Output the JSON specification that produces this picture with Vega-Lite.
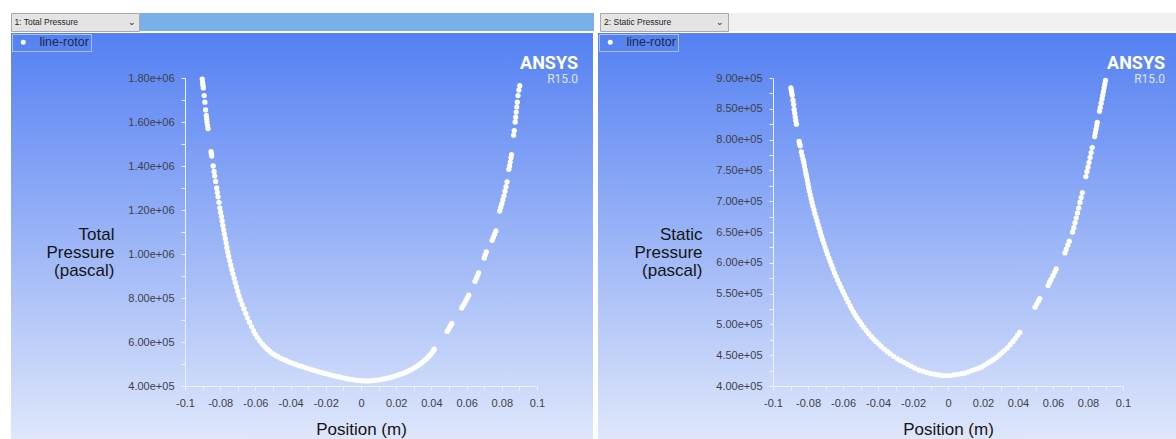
{
  "$schema": "https://vega.github.io/schema/vega-lite/v6.json",
  "background": "#ffffff",
  "padding": {"left": 10, "top": 12, "right": 0, "bottom": 0},
  "config": {
    "view": {"stroke": null},
    "font": "Liberation Sans",
    "axis": {
      "grid": false,
      "domainColor": "#eef2fd",
      "tickColor": "#eef2fd",
      "domainWidth": 1,
      "tickWidth": 1,
      "tickSize": 4,
      "labelFont": "Liberation Sans",
      "labelFontSize": 11,
      "labelColor": "#40404a",
      "labelPadding": 7,
      "labelFlush": false,
      "labelOverlap": false,
      "titleFont": "Liberation Sans",
      "titleFontSize": 17,
      "titleFontWeight": "normal",
      "titleColor": "#151515"
    },
    "legend": {
      "title": null,
      "orient": "top-left",
      "offset": 1,
      "padding": 2,
      "strokeColor": "#a7bff6",
      "symbolType": "circle",
      "symbolSize": 25,
      "symbolStrokeWidth": 0,
      "symbolOffset": 3,
      "labelOffset": 10,
      "labelFont": "Liberation Sans",
      "labelFontSize": 12.5,
      "labelColor": "#1f2a48"
    },
    "title": {"font": "Roboto", "color": "#ffffff"}
  },
  "datasets": {
    "hdr1": [{"label": "1: Total Pressure\u00a0\u00a0\u00a0\u00a0\u00a0\u00a0\u00a0\u00a0\u00a0\u00a0\u00a0\u00a0\u00a0\u00a0\u00a0\u00a0\u00a0\u00a0\u00a0\u00a0\u00a0\u2304"}],
    "hdr2": [{"label": "2: Static Pressure\u00a0\u00a0\u00a0\u00a0\u00a0\u00a0\u00a0\u00a0\u00a0\u00a0\u00a0\u00a0\u00a0\u00a0\u00a0\u00a0\u00a0\u00a0\u00a0\u2304"}],
    "total": [
      {"x":-0.0902,"p":1795000},{"x":-0.0900,"p":1780000},{"x":-0.0898,"p":1767000},{"x":-0.0896,"p":1755000},
      {"x":-0.0891,"p":1720000},{"x":-0.0887,"p":1690000},{"x":-0.0883,"p":1655000},{"x":-0.0879,"p":1630000},
      {"x":-0.0877,"p":1615000},{"x":-0.0875,"p":1600000},{"x":-0.0872,"p":1585000},{"x":-0.0869,"p":1570000},
      {"x":-0.0852,"p":1465000},{"x":-0.0850,"p":1455000},{"x":-0.0848,"p":1445000},{"x":-0.0840,"p":1400000},
      {"x":-0.0835,"p":1375000},{"x":-0.0831,"p":1355000},{"x":-0.0826,"p":1330000},{"x":-0.0820,"p":1300000},
      {"x":-0.0816,"p":1280000},{"x":-0.0812,"p":1260000},{"x":-0.0807,"p":1235000},{"x":-0.0802,"p":1210000},
      {"x":-0.0798,"p":1190000},{"x":-0.0793,"p":1170000},{"x":-0.0789,"p":1150000},{"x":-0.0785,"p":1130000},
      {"x":-0.0780,"p":1110000},{"x":-0.0776,"p":1090000},{"x":-0.0771,"p":1070000},{"x":-0.0766,"p":1050000},
      {"x":-0.0762,"p":1030000},{"x":-0.0757,"p":1010000},{"x":-0.0752,"p":990000},{"x":-0.0746,"p":970000},
      {"x":-0.0740,"p":950000},{"x":-0.0734,"p":930000},{"x":-0.0728,"p":910000},{"x":-0.0721,"p":890000},
      {"x":-0.0714,"p":870000},{"x":-0.0707,"p":850000},{"x":-0.0700,"p":830000},{"x":-0.0693,"p":810000},
      {"x":-0.0685,"p":790000},{"x":-0.0675,"p":770000},{"x":-0.0665,"p":750000},{"x":-0.0655,"p":730000},
      {"x":-0.0645,"p":710000},{"x":-0.0634,"p":690000},{"x":-0.0622,"p":670000},{"x":-0.0610,"p":650000},
      {"x":-0.0600,"p":635000},{"x":-0.0588,"p":620000},{"x":-0.0575,"p":605000},{"x":-0.0560,"p":590000},
      {"x":-0.0546,"p":578000},{"x":-0.0532,"p":567000},{"x":-0.0518,"p":557000},{"x":-0.0503,"p":548000},
      {"x":-0.0488,"p":540000},{"x":-0.0472,"p":533000},{"x":-0.0455,"p":526000},{"x":-0.0439,"p":520000},
      {"x":-0.0422,"p":514000},{"x":-0.0405,"p":508000},{"x":-0.0388,"p":503000},{"x":-0.0371,"p":498000},
      {"x":-0.0354,"p":493000},{"x":-0.0337,"p":489000},{"x":-0.0319,"p":484000},{"x":-0.0301,"p":479000},
      {"x":-0.0283,"p":475000},{"x":-0.0265,"p":471000},{"x":-0.0247,"p":466000},{"x":-0.0229,"p":462000},
      {"x":-0.0211,"p":458000},{"x":-0.0193,"p":455000},{"x":-0.0175,"p":451000},{"x":-0.0157,"p":447000},
      {"x":-0.0139,"p":444000},{"x":-0.0121,"p":441000},{"x":-0.0103,"p":437000},{"x":-0.0085,"p":434000},
      {"x":-0.0067,"p":431000},{"x":-0.0049,"p":429000},{"x":-0.0031,"p":427000},{"x":-0.0013,"p":425000},
      {"x":0.0005,"p":424000},{"x":0.0023,"p":423000},{"x":0.0041,"p":423000},{"x":0.0059,"p":424000},
      {"x":0.0077,"p":425000},{"x":0.0095,"p":427000},{"x":0.0112,"p":429000},{"x":0.0129,"p":432000},
      {"x":0.0146,"p":435000},{"x":0.0162,"p":438000},{"x":0.0178,"p":441000},{"x":0.0194,"p":445000},
      {"x":0.0209,"p":449000},{"x":0.0224,"p":453000},{"x":0.0239,"p":457000},{"x":0.0254,"p":462000},
      {"x":0.0268,"p":467000},{"x":0.0282,"p":473000},{"x":0.0296,"p":479000},{"x":0.0310,"p":486000},
      {"x":0.0323,"p":493000},{"x":0.0336,"p":500000},{"x":0.0349,"p":508000},{"x":0.0361,"p":516000},
      {"x":0.0373,"p":524000},{"x":0.0384,"p":533000},{"x":0.0394,"p":542000},{"x":0.0403,"p":551000},
      {"x":0.0411,"p":560000},{"x":0.0416,"p":567000},
      {"x":0.0490,"p":648000},{"x":0.0497,"p":657000},{"x":0.0503,"p":666000},{"x":0.0510,"p":676000},
      {"x":0.0516,"p":684000},{"x":0.0572,"p":754000},{"x":0.0580,"p":765000},{"x":0.0588,"p":776000},
      {"x":0.0596,"p":788000},{"x":0.0604,"p":800000},{"x":0.0612,"p":813000},{"x":0.0648,"p":876000},
      {"x":0.0655,"p":889000},{"x":0.0662,"p":902000},{"x":0.0668,"p":914000},{"x":0.0700,"p":982000},
      {"x":0.0706,"p":996000},{"x":0.0712,"p":1010000},{"x":0.0745,"p":1062000},{"x":0.0752,"p":1076000},
      {"x":0.0759,"p":1090000},{"x":0.0766,"p":1105000},{"x":0.0788,"p":1195000},{"x":0.0794,"p":1212000},
      {"x":0.0800,"p":1228000},{"x":0.0806,"p":1246000},{"x":0.0812,"p":1264000},{"x":0.0818,"p":1285000},
      {"x":0.0824,"p":1306000},{"x":0.0830,"p":1328000},{"x":0.0840,"p":1385000},{"x":0.0844,"p":1400000},
      {"x":0.0848,"p":1418000},{"x":0.0852,"p":1437000},{"x":0.0855,"p":1452000},{"x":0.0867,"p":1540000},
      {"x":0.0871,"p":1561000},{"x":0.0876,"p":1600000},{"x":0.0879,"p":1622000},{"x":0.0882,"p":1645000},
      {"x":0.0885,"p":1668000},{"x":0.0888,"p":1690000},{"x":0.0892,"p":1720000},{"x":0.0897,"p":1745000},
      {"x":0.0902,"p":1765000}
    ],
    "static": [
      {"x":-0.0898,"p":884000},{"x":-0.0895,"p":880000},{"x":-0.0893,"p":876000},{"x":-0.0890,"p":872000},
      {"x":-0.0886,"p":864000},{"x":-0.0882,"p":857000},{"x":-0.0879,"p":849000},{"x":-0.0876,"p":843000},
      {"x":-0.0873,"p":837000},{"x":-0.0870,"p":831000},{"x":-0.0866,"p":825000},
      {"x":-0.0851,"p":797000},{"x":-0.0848,"p":793000},{"x":-0.0845,"p":790000},{"x":-0.0838,"p":780000},
      {"x":-0.0833,"p":774000},{"x":-0.0828,"p":768000},{"x":-0.0824,"p":763000},{"x":-0.0820,"p":757000},
      {"x":-0.0816,"p":751000},{"x":-0.0812,"p":745000},{"x":-0.0808,"p":740000},{"x":-0.0804,"p":734000},
      {"x":-0.0800,"p":728000},{"x":-0.0796,"p":722000},{"x":-0.0792,"p":716000},{"x":-0.0787,"p":710000},
      {"x":-0.0782,"p":704000},{"x":-0.0777,"p":698000},{"x":-0.0772,"p":692000},{"x":-0.0766,"p":686000},
      {"x":-0.0761,"p":680000},{"x":-0.0754,"p":674000},{"x":-0.0748,"p":668000},{"x":-0.0742,"p":662000},
      {"x":-0.0736,"p":656000},{"x":-0.0730,"p":650000},{"x":-0.0724,"p":644000},{"x":-0.0717,"p":638000},
      {"x":-0.0710,"p":632000},{"x":-0.0703,"p":626000},{"x":-0.0696,"p":620000},{"x":-0.0689,"p":614000},
      {"x":-0.0681,"p":608000},{"x":-0.0673,"p":602000},{"x":-0.0665,"p":596000},{"x":-0.0657,"p":590000},
      {"x":-0.0649,"p":584000},{"x":-0.0640,"p":578000},{"x":-0.0631,"p":572000},{"x":-0.0621,"p":566000},
      {"x":-0.0611,"p":560000},{"x":-0.0601,"p":554000},{"x":-0.0591,"p":548000},{"x":-0.0581,"p":542000},
      {"x":-0.0570,"p":536000},{"x":-0.0559,"p":530000},{"x":-0.0550,"p":525000},{"x":-0.0540,"p":520000},
      {"x":-0.0529,"p":515000},{"x":-0.0518,"p":510000},{"x":-0.0506,"p":505000},{"x":-0.0494,"p":500000},
      {"x":-0.0481,"p":495000},{"x":-0.0467,"p":490000},{"x":-0.0453,"p":485000},{"x":-0.0438,"p":480000},
      {"x":-0.0424,"p":476000},{"x":-0.0410,"p":472000},{"x":-0.0395,"p":468000},{"x":-0.0380,"p":464000},
      {"x":-0.0364,"p":460000},{"x":-0.0347,"p":456000},{"x":-0.0330,"p":452000},{"x":-0.0310,"p":448000},
      {"x":-0.0288,"p":444000},{"x":-0.0270,"p":441000},{"x":-0.0250,"p":438000},{"x":-0.0230,"p":435000},
      {"x":-0.0210,"p":432000},{"x":-0.0189,"p":429000},{"x":-0.0167,"p":426000},{"x":-0.0145,"p":424000},
      {"x":-0.0122,"p":422000},{"x":-0.0099,"p":420000},{"x":-0.0076,"p":419000},{"x":-0.0054,"p":418000},
      {"x":-0.0032,"p":417000},{"x":-0.0010,"p":417000},{"x":0.0012,"p":417000},{"x":0.0034,"p":418000},
      {"x":0.0056,"p":419000},{"x":0.0078,"p":420000},{"x":0.0098,"p":421000},{"x":0.0118,"p":423000},
      {"x":0.0137,"p":425000},{"x":0.0156,"p":427000},{"x":0.0175,"p":429000},{"x":0.0193,"p":431000},
      {"x":0.0210,"p":434000},{"x":0.0227,"p":437000},{"x":0.0244,"p":440000},{"x":0.0260,"p":443000},
      {"x":0.0276,"p":446000},{"x":0.0292,"p":450000},{"x":0.0308,"p":454000},{"x":0.0324,"p":458000},
      {"x":0.0340,"p":462000},{"x":0.0355,"p":467000},{"x":0.0370,"p":472000},{"x":0.0384,"p":477000},
      {"x":0.0397,"p":482000},{"x":0.0410,"p":487000},
      {"x":0.0497,"p":528000},{"x":0.0507,"p":533000},{"x":0.0517,"p":538000},{"x":0.0524,"p":542000},
      {"x":0.0572,"p":563000},{"x":0.0580,"p":568000},{"x":0.0589,"p":573000},{"x":0.0600,"p":579000},
      {"x":0.0610,"p":585000},{"x":0.0618,"p":590000},{"x":0.0668,"p":616000},{"x":0.0676,"p":622000},
      {"x":0.0685,"p":629000},{"x":0.0693,"p":635000},{"x":0.0712,"p":650000},{"x":0.0719,"p":657000},
      {"x":0.0726,"p":665000},{"x":0.0733,"p":673000},{"x":0.0740,"p":681000},{"x":0.0747,"p":689000},
      {"x":0.0754,"p":698000},{"x":0.0761,"p":706000},{"x":0.0768,"p":714000},{"x":0.0788,"p":740000},
      {"x":0.0794,"p":748000},{"x":0.0800,"p":755000},{"x":0.0806,"p":763000},{"x":0.0812,"p":771000},
      {"x":0.0818,"p":779000},{"x":0.0824,"p":787000},{"x":0.0838,"p":805000},{"x":0.0842,"p":811000},
      {"x":0.0846,"p":817000},{"x":0.0850,"p":823000},{"x":0.0853,"p":828000},{"x":0.0866,"p":846000},
      {"x":0.0870,"p":852000},{"x":0.0875,"p":859000},{"x":0.0880,"p":866000},{"x":0.0884,"p":872000},
      {"x":0.0888,"p":878000},{"x":0.0892,"p":884000},{"x":0.0896,"p":890000},{"x":0.0900,"p":896000}
    ]
  },
  "vconcat": [
    {
      "hconcat": [
        {
          "hconcat": [
            {
              "width": 128, "height": 18,
              "view": {"fill": "#e4e4e4", "stroke": "#a9a9a9"},
              "data": {"name": "hdr1"},
              "mark": {"type": "text", "font": "Liberation Sans", "fontSize": 8.5, "color": "#222222"},
              "encoding": {"text": {"field": "label"}}
            },
            {
              "width": 454, "height": 18,
              "view": {"fill": "#79b0ea", "stroke": null},
              "data": {"values": []},
              "mark": "text",
              "encoding": {}
            }
          ],
          "spacing": 0
        },
        {
          "hconcat": [
            {
              "width": 128, "height": 18,
              "view": {"fill": "#e4e4e4", "stroke": "#a9a9a9"},
              "data": {"name": "hdr2"},
              "mark": {"type": "text", "font": "Liberation Sans", "fontSize": 8.5, "color": "#222222"},
              "encoding": {"text": {"field": "label"}}
            },
            {
              "width": 451, "height": 18,
              "view": {"fill": "#f0f0f0", "stroke": null},
              "data": {"values": []},
              "mark": "text",
              "encoding": {}
            }
          ],
          "spacing": 0
        }
      ],
      "spacing": 5
    },
    {
      "resolve": {"scale": {"color": "independent"}, "legend": {"color": "independent"}},
      "hconcat": [
        {
          "width": 582, "height": 408,
          "view": {"fill": {"gradient": "linear", "x1": 0, "y1": 0, "x2": 0, "y2": 1, "stops": [{"offset": 0, "color": "#5480f2"}, {"offset": 1, "color": "#dfe7fb"}]}, "stroke": null},
          "title": {"text": "ANSYS", "subtitle": "R15.0", "anchor": "end", "frame": "group", "orient": "top", "offset": -52, "dx": -15, "font": "Roboto", "fontSize": 18, "fontWeight": "bold", "color": "#ffffff", "subtitleFont": "Roboto", "subtitleFontSize": 12, "subtitleColor": "#dde5f8", "subtitlePadding": 1},
          "data": {"name": "total"},
          "mark": {"type": "point", "filled": true, "size": 28, "opacity": 1},
          "encoding": {
            "x": {
              "field": "x", "type": "quantitative",
              "scale": {"domain": [-0.1, 0.1], "range": [174, 526], "nice": false, "zero": false},
              "axis": {
                "title": "Position (m)", "orient": "bottom", "offset": -55,
                "values": [-0.1,-0.09,-0.08,-0.07,-0.06,-0.05,-0.04,-0.03,-0.02,-0.01,0,0.01,0.02,0.03,0.04,0.05,0.06,0.07,0.08,0.09,0.1],
                "labelExpr": "round(datum.value*100) % 2 == 0 ? toString(round(datum.value*100)/100) : ''",
                "titleY": 48, "titleBaseline": "alphabetic"
              }
            },
            "y": {
              "field": "p", "type": "quantitative",
              "scale": {"domain": [400000, 1800000], "range": [353, 45], "nice": false, "zero": false},
              "axis": {
                "title": ["Total", "Pressure", "(pascal)"], "orient": "left", "offset": -174,
                "values": [400000,500000,600000,700000,800000,900000,1000000,1100000,1200000,1300000,1400000,1500000,1600000,1700000,1800000],
                "labelExpr": "round(datum.value/100000) % 2 == 0 ? replace(format(datum.value, '.2e'), 'e+', 'e+0') : ''",
                "titleAngle": 0, "titleAlign": "right", "titleX": -71, "titleY": 206, "titleBaseline": "alphabetic", "titleLineHeight": 18
              }
            },
            "color": {"datum": "line-rotor", "scale": {"range": ["#ffffff"]}, "legend": {"labelExpr": "datum.label + '\u00a0\u00a0\u00a0\u00a0\u00a0\u00a0'"}}
          }
        },
        {
          "width": 579, "height": 408,
          "view": {"fill": {"gradient": "linear", "x1": 0, "y1": 0, "x2": 0, "y2": 1, "stops": [{"offset": 0, "color": "#5480f2"}, {"offset": 1, "color": "#dfe7fb"}]}, "stroke": null},
          "title": {"text": "ANSYS", "subtitle": "R15.0", "anchor": "end", "frame": "group", "orient": "top", "offset": -52, "dx": -12, "font": "Roboto", "fontSize": 18, "fontWeight": "bold", "color": "#ffffff", "subtitleFont": "Roboto", "subtitleFontSize": 12, "subtitleColor": "#dde5f8", "subtitlePadding": 1},
          "data": {"name": "static"},
          "mark": {"type": "point", "filled": true, "size": 28, "opacity": 1},
          "encoding": {
            "x": {
              "field": "x", "type": "quantitative",
              "scale": {"domain": [-0.1, 0.1], "range": [175, 525], "nice": false, "zero": false},
              "axis": {
                "title": "Position (m)", "orient": "bottom", "offset": -55,
                "values": [-0.1,-0.09,-0.08,-0.07,-0.06,-0.05,-0.04,-0.03,-0.02,-0.01,0,0.01,0.02,0.03,0.04,0.05,0.06,0.07,0.08,0.09,0.1],
                "labelExpr": "round(datum.value*100) % 2 == 0 ? toString(round(datum.value*100)/100) : ''",
                "titleY": 48, "titleBaseline": "alphabetic"
              }
            },
            "y": {
              "field": "p", "type": "quantitative",
              "scale": {"domain": [400000, 900000], "range": [353, 45], "nice": false, "zero": false},
              "axis": {
                "title": ["Static", "Pressure", "(pascal)"], "orient": "left", "offset": -175,
                "values": [400000,425000,450000,475000,500000,525000,550000,575000,600000,625000,650000,675000,700000,725000,750000,775000,800000,825000,850000,875000,900000],
                "labelExpr": "round(datum.value/25000) % 2 == 0 ? replace(format(datum.value, '.2e'), 'e+', 'e+0') : ''",
                "titleAngle": 0, "titleAlign": "right", "titleX": -71, "titleY": 206, "titleBaseline": "alphabetic", "titleLineHeight": 18
              }
            },
            "color": {"datum": "line-rotor", "scale": {"range": ["#ffffff"]}, "legend": {"labelExpr": "datum.label + '\u00a0\u00a0\u00a0\u00a0\u00a0\u00a0'"}}
          }
        }
      ],
      "spacing": 5
    }
  ],
  "spacing": 1
}
